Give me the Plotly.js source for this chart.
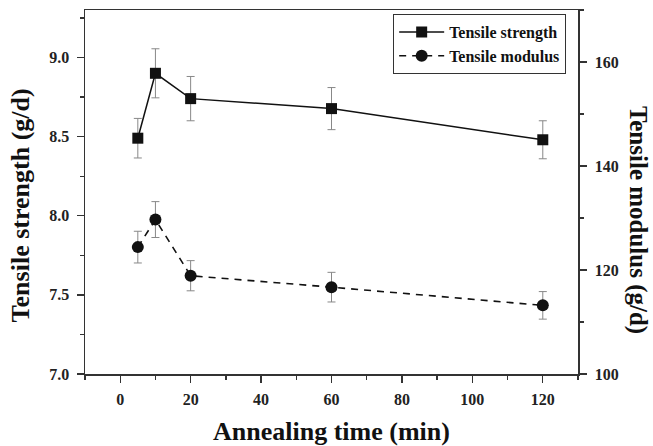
<!DOCTYPE html>
<html>
<head>
<meta charset="utf-8">
<script src="https://cdn.plot.ly/plotly-3.0.1.min.js"></script>
<style>html,body{margin:0;padding:0;background:#fff;}#chart{width:653px;height:446px;}</style>
</head>
<body>
<div id="chart"></div>
<script>
var annealingTime = [5, 10, 20, 60, 120];
var strength = [8.49, 8.90, 8.74, 8.677, 8.48];
var strengthErr = [0.125, 0.155, 0.14, 0.133, 0.12];
var modulus = [124.4, 129.7, 118.9, 116.7, 113.2];
var modulusErr = [3.05, 3.45, 2.9, 2.85, 2.65];
var xTicks = [0, 20, 40, 60, 80, 100, 120];

var F = "Liberation Serif, Times New Roman, serif";
var axisCol = "#333";

var traces = [
  {
    x: annealingTime, y: strength, name: "Tensile strength",
    type: "scatter", mode: "lines+markers",
    line: {color: "#111", width: 1.5},
    marker: {symbol: "square", size: 11, color: "#111"},
    error_y: {type: "data", array: strengthErr, visible: true, color: "#888", thickness: 1, width: 4},
    yaxis: "y"
  },
  {
    x: annealingTime, y: modulus, name: "Tensile modulus",
    type: "scatter", mode: "lines+markers",
    line: {color: "#111", width: 1.6, dash: "7px,6px"},
    marker: {symbol: "circle", size: 12, color: "#111"},
    error_y: {type: "data", array: modulusErr, visible: true, color: "#888", thickness: 1, width: 4},
    yaxis: "y2"
  }
];

var tickFont = {family: F, size: 16, color: "#222", weight: "bold"};

var layout = {
  width: 653, height: 446,
  margin: {l: 85, r: 75, t: 10, b: 72, pad: 0},
  paper_bgcolor: "#fff", plot_bgcolor: "#fff",
  showlegend: true,
  legend: {
    x: 0.976, y: 0.989, xanchor: "right", yanchor: "top",
    bordercolor: axisCol, borderwidth: 1, bgcolor: "#fff",
    font: {family: F, size: 16, color: "#111", weight: "bold"},
    itemwidth: 45, tracegroupgap: 0
  },
  xaxis: {
    range: [-10, 130], tickvals: xTicks, ticktext: xTicks.map(String),
    showgrid: false, zeroline: false,
    showline: true, linecolor: axisCol, linewidth: 1.5, mirror: true,
    ticks: "outside", ticklen: 7, tickwidth: 1.3, tickcolor: axisCol,
    minor: {dtick: 10, tick0: 0, ticks: "outside", ticklen: 4, tickwidth: 1.3, tickcolor: axisCol, showgrid: false},
    tickfont: tickFont, ticklabelstandoff: 3
  },
  yaxis: {
    range: [7.0, 9.3], dtick: 0.5, tick0: 7, tickformat: ".1f",
    showgrid: false, zeroline: false,
    showline: true, linecolor: axisCol, linewidth: 1.5,
    ticks: "outside", ticklen: 7, tickwidth: 1.3, tickcolor: axisCol,
    minor: {dtick: 0.25, ticks: "outside", ticklen: 4, tickwidth: 1.3, tickcolor: axisCol, showgrid: false},
    tickfont: tickFont, ticklabelstandoff: 4
  },
  yaxis2: {
    range: [100, 170], dtick: 20, tick0: 100, overlaying: "y", side: "right",
    showgrid: false, zeroline: false,
    showline: true, linecolor: axisCol, linewidth: 1.5,
    ticks: "outside", ticklen: 7, tickwidth: 1.3, tickcolor: axisCol,
    minor: {dtick: 10, ticks: "outside", ticklen: 4, tickwidth: 1.3, tickcolor: axisCol, showgrid: false},
    tickfont: tickFont, ticklabelstandoff: 5
  },
  annotations: [
    {text: "Annealing time (min)", xref: "paper", yref: "paper", x: 0.501, y: -0.159,
     xanchor: "center", yanchor: "middle", showarrow: false,
     font: {family: F, size: 26, color: "#111", weight: "bold"}},
    {text: "Tensile strength (g/d)", xref: "paper", yref: "paper", x: -0.13, y: 0.463,
     xanchor: "center", yanchor: "middle", showarrow: false, textangle: -90,
     font: {family: F, size: 26, color: "#111", weight: "bold"}},
    {text: "Tensile modulus (g/d)", xref: "paper", yref: "paper", x: 1.122, y: 0.423,
     xanchor: "center", yanchor: "middle", showarrow: false, textangle: 90,
     font: {family: F, size: 25, color: "#111", weight: "bold"}}
  ]
};

Plotly.newPlot("chart", traces, layout, {displayModeBar: false, staticPlot: true});
</script>
</body>
</html>
